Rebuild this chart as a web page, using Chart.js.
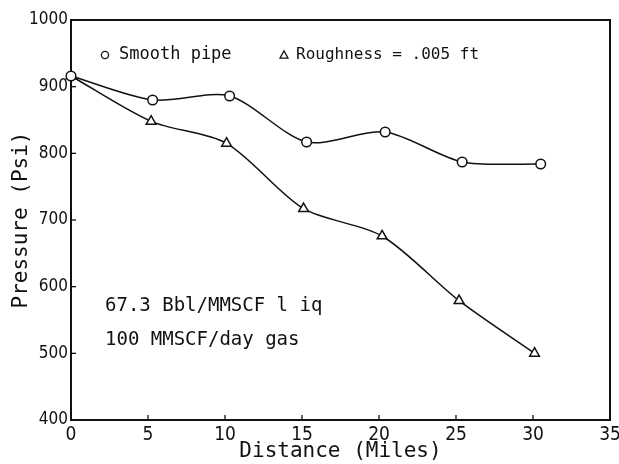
<!DOCTYPE html>
<html>
<head>
<meta charset="utf-8">
<script src="https://cdn.jsdelivr.net/npm/chart.js@4.4.0/dist/chart.umd.min.js"></script>
<style>
  html, body { margin: 0; padding: 0; background: #fff; }
  canvas { display: block; }
</style>
</head>
<body>
<canvas id="c" width="619" height="464"></canvas>
<script>
// ---- data ----
const distSmooth  = [0, 5.3, 10.3, 15.3, 20.4, 25.4, 30.5];
const pressSmooth = [916, 880, 886, 817, 832, 787, 784];
const distRough   = [0, 5.2, 10.1, 15.1, 20.2, 25.2, 30.1];
const pressRough  = [916, 848, 815, 717, 676, 579, 500];
const xTicks = [0, 5, 10, 15, 20, 25, 30, 35];
const yTicks = [400, 500, 600, 700, 800, 900, 1000];
const seriesNames = ['Smooth pipe', 'Roughness = .005 ft'];
const noteLines = ['67.3 Bbl/MMSCF l iq', '100 MMSCF/day gas'];
const xTitle = 'Distance (Miles)';
const yTitle = 'Pressure (Psi)';

const INK = '#111';
const MONO = '"DejaVu Sans Mono", "Liberation Mono", monospace';
const NARROW = '"Liberation Sans Narrow", "DejaVu Sans Condensed", "Liberation Sans", sans-serif';

const toPts = (xs, ys) => xs.map((x, i) => ({ x, y: ys[i] }));

const frame = {
  id: 'frame',
  beforeDraw(chart) {
    const ctx = chart.ctx;
    ctx.save();
    ctx.fillStyle = '#fff';
    ctx.fillRect(0, 0, chart.width, chart.height);
    ctx.restore();
  },
  beforeDatasetsDraw(chart) {
    const { ctx, chartArea: a, scales: { x, y } } = chart;
    ctx.save();
    ctx.strokeStyle = INK;
    ctx.lineWidth = 2;
    ctx.beginPath();
    ctx.moveTo(a.left, a.top);
    ctx.lineTo(a.right, a.top);
    ctx.lineTo(a.right, a.bottom);
    ctx.stroke();
    // inward tick marks
    ctx.lineWidth = 1.3;
    xTicks.forEach(v => {
      if (v === xTicks[0] || v === xTicks[xTicks.length - 1]) return;
      const px = x.getPixelForValue(v);
      ctx.beginPath(); ctx.moveTo(px, a.bottom); ctx.lineTo(px, a.bottom - 5); ctx.stroke();
    });
    yTicks.forEach(v => {
      if (v === yTicks[0] || v === yTicks[yTicks.length - 1]) return;
      const py = y.getPixelForValue(v);
      ctx.beginPath(); ctx.moveTo(a.left, py); ctx.lineTo(a.left + 5, py); ctx.stroke();
    });
    ctx.restore();
  },
  afterDraw(chart) {
    const { ctx, chartArea: a } = chart;
    ctx.save();
    ctx.fillStyle = INK;
    ctx.strokeStyle = INK;
    // legend
    ctx.lineWidth = 1.3;
    ctx.beginPath(); ctx.arc(105, 55, 3.6, 0, Math.PI * 2); ctx.stroke();
    const tx = 284, ty = 55, s = 4.2;
    ctx.beginPath();
    ctx.moveTo(tx, ty - s); ctx.lineTo(tx + s * 0.95, ty + s * 0.75); ctx.lineTo(tx - s * 0.95, ty + s * 0.75);
    ctx.closePath(); ctx.stroke();
    ctx.textBaseline = 'middle';
    ctx.textAlign = 'left';
    ctx.font = '17px ' + MONO;
    ctx.fillText(seriesNames[0], 119, 55);
    ctx.font = '16px ' + MONO;
    ctx.fillText(seriesNames[1], 296, 55);
    // notes
    ctx.font = '19px ' + MONO;
    ctx.fillText(noteLines[0], 105, 306);
    ctx.fillText(noteLines[1], 105, 340);
    // axis titles
    ctx.font = '21px ' + MONO;
    ctx.textAlign = 'center';
    ctx.fillText(xTitle, (a.left + a.right) / 2, 452);
    ctx.save();
    ctx.translate(22, (a.top + a.bottom) / 2);
    ctx.rotate(-Math.PI / 2);
    ctx.fillText(yTitle, 0, 0);
    ctx.restore();
    ctx.restore();
  }
};

const common = {
  borderColor: INK,
  borderWidth: 1.5,
  pointBackgroundColor: '#fff',
  pointBorderColor: INK,
  pointBorderWidth: 1.5,
  tension: 0.28,
  fill: false,
  clip: false
};

new Chart(document.getElementById('c'), {
  type: 'line',
  data: {
    datasets: [
      Object.assign({ label: seriesNames[0], data: toPts(distSmooth, pressSmooth), pointStyle: 'circle', pointRadius: 4.8 }, common),
      Object.assign({ label: seriesNames[1], data: toPts(distRough, pressRough), pointStyle: 'triangle', pointRadius: 5.6 }, common)
    ]
  },
  options: {
    responsive: false,
    devicePixelRatio: 1,
    animation: false,
    layout: { padding: { top: 20, right: 9, left: 0, bottom: 0 } },
    plugins: { legend: { display: false }, tooltip: { enabled: false } },
    scales: {
      x: {
        type: 'linear',
        min: 0, max: 35,
        afterBuildTicks: s => { s.ticks = xTicks.map(v => ({ value: v })); },
        afterFit: s => { s.height = 44; s.paddingLeft = 0; s.paddingRight = 0; },
        grid: { display: false, drawTicks: false },
        border: { display: true, color: INK, width: 2 },
        ticks: { color: INK, font: { family: NARROW, size: 19 }, padding: 4, maxRotation: 0, autoSkip: false, callback: v => String(v) }
      },
      y: {
        type: 'linear',
        min: 400, max: 1000,
        afterBuildTicks: s => { s.ticks = yTicks.map(v => ({ value: v })); },
        afterFit: s => { s.width = 71; s.paddingTop = 0; s.paddingBottom = 0; },
        grid: { display: false, drawTicks: false },
        border: { display: true, color: INK, width: 2 },
        ticks: { color: INK, font: { family: NARROW, size: 17 }, padding: 3, autoSkip: false, callback: v => String(v) }
      }
    }
  },
  plugins: [frame]
});
</script>
</body>
</html>
